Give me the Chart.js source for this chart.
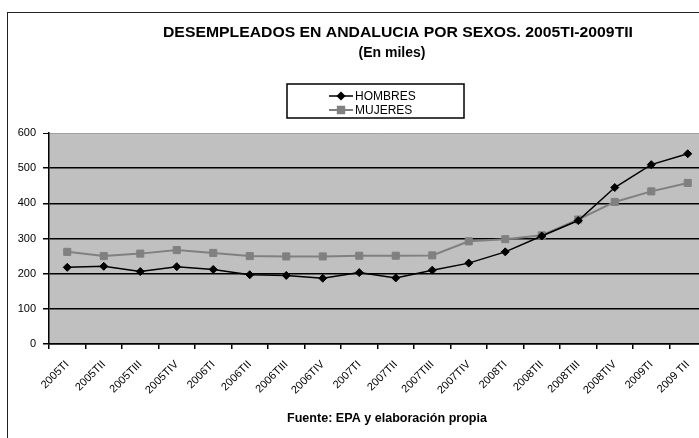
<!DOCTYPE html>
<html>
<head>
<meta charset="utf-8">
<script src="https://cdn.jsdelivr.net/npm/chart.js@4/dist/chart.umd.min.js"></script>
<style>
  html, body { margin: 0; padding: 0; background: #fff; overflow: hidden; }
  #wrap { position: relative; width: 715px; height: 438px; }
</style>
</head>
<body>
<div id="wrap"><canvas id="c" width="715" height="438"></canvas></div>
<script>
const categories = ['2005TI','2005TII','2005TIII','2005TIV','2006TI','2006TII','2006TIII','2006TIV','2007TI','2007TII','2007TIII','2007TIV','2008TI','2008TII','2008TIII','2008TIV','2009TI','2009 TII'];
const hombres = [218, 221, 206, 220, 212, 197, 195, 187, 203, 188, 210, 230, 262, 307, 351, 445, 510, 541];
const mujeres = [262, 250, 257, 267, 259, 250, 249, 249, 251, 251, 252, 292, 298, 309, 354, 404, 434, 458];
const seriesNames = ['HOMBRES', 'MUJERES'];
const titleLines = ['DESEMPLEADOS EN ANDALUCIA POR SEXOS. 2005TI-2009TII', '(En miles)'];
const footerText = 'Fuente: EPA y elaboración propia';
const yTicks = [0, 100, 200, 300, 400, 500, 600];

const FONT = '"Liberation Sans", Arial, sans-serif';

function fitText(ctx, text, x, y, targetW) {
  const w = ctx.measureText(text).width;
  ctx.save();
  ctx.translate(x, y);
  ctx.scale(targetW / w, 1);
  ctx.fillText(text, 0, 0);
  ctx.restore();
}

const decor = {
  id: 'decor',
  beforeDraw(chart) {
    const ctx = chart.ctx, a = chart.chartArea;
    ctx.save();
    ctx.fillStyle = '#fff';
    ctx.fillRect(0, 0, chart.width, chart.height);
    ctx.fillStyle = '#c0c0c0';
    ctx.fillRect(a.left, a.top, a.right - a.left, a.bottom - a.top);
    ctx.strokeStyle = '#222';
    ctx.lineWidth = 1;
    ctx.strokeRect(7.5, 12.5, chart.width + 20, chart.height + 20);
    ctx.restore();
  },
  afterDraw(chart) {
    const ctx = chart.ctx;
    ctx.save();
    ctx.fillStyle = '#000';
    ctx.textBaseline = 'middle';
    ctx.textAlign = 'left';
    ctx.font = 'bold 15px ' + FONT;
    fitText(ctx, titleLines[0], 163, 33, 470);
    ctx.font = 'bold 14px ' + FONT;
    ctx.textAlign = 'center';
    ctx.fillText(titleLines[1], 392, 53);
    ctx.lineWidth = 1.5;
    ctx.strokeStyle = '#000';
    ctx.strokeRect(287, 84, 177, 34);
    ctx.font = '12px ' + FONT;
    ctx.textAlign = 'left';
    const ys = [96, 110];
    chart.data.datasets.forEach((ds, i) => {
      const y = ys[i];
      ctx.strokeStyle = ds.borderColor;
      ctx.lineWidth = ds.borderWidth;
      ctx.beginPath();
      ctx.moveTo(329, y); ctx.lineTo(353, y);
      ctx.stroke();
      Chart.helpers.drawPoint(ctx, {pointStyle: ds.pointStyle, radius: ds.pointRadius - 0.5, borderWidth: 1}, 341, y);
      ctx.fillStyle = ds.pointBackgroundColor;
      ctx.fill();
      ctx.fillStyle = '#000';
      ctx.fillText(ds.label, 355, y + 0.5);
    });
    ctx.font = 'bold 12px ' + FONT;
    ctx.textAlign = 'left';
    fitText(ctx, footerText, 287, 419, 200);
    ctx.restore();
  }
};

new Chart(document.getElementById('c'), {
  type: 'line',
  data: {
    labels: categories,
    datasets: [
      {
        label: seriesNames[0], data: hombres,
        borderColor: '#000', borderWidth: 1.5,
        pointStyle: 'rectRot', pointRadius: 4, pointBackgroundColor: '#000', pointBorderColor: '#000', pointBorderWidth: 1,
        tension: 0
      },
      {
        label: seriesNames[1], data: mujeres,
        borderColor: '#808080', borderWidth: 2,
        pointStyle: 'rect', pointRadius: 5, pointBackgroundColor: '#808080', pointBorderColor: '#808080', pointBorderWidth: 1,
        tension: 0
      }
    ]
  },
  options: {
    responsive: false,
    animation: false,
    devicePixelRatio: 1,
    layout: { padding: { left: 0, right: 9, top: 133, bottom: 0 } },
    plugins: { legend: { display: false }, title: { display: false }, tooltip: { enabled: false } },
    scales: {
      x: {
        type: 'category',
        offset: true,
        grid: { display: true, offset: true, drawOnChartArea: false, drawTicks: true, tickLength: 5, color: '#000', lineWidth: 1.5 },
        border: { display: true, color: '#000', width: 1.5 },
        ticks: { autoSkip: false, minRotation: 45, maxRotation: 45, padding: 9, color: '#000', font: { family: FONT, size: 11 } },
        afterFit(scale) { scale.height = 94; }
      },
      y: {
        min: 0, max: 600,
        afterBuildTicks(scale) { scale.ticks = yTicks.map(v => ({ value: v })); },
        grid: {
          color: ctx => (ctx.tick && ctx.tick.value === 600) ? '#a0a0a0' : '#000',
          tickColor: '#000',
          lineWidth: ctx => (ctx.tick && ctx.tick.value === 600) ? 1 : 1.5,
          tickLength: 6, drawTicks: true
        },
        border: { display: true, color: '#000', width: 1.5 },
        ticks: { padding: 7, color: '#000', font: { family: FONT, size: 11 } },
        afterFit(scale) { scale.width = 49; }
      }
    }
  },
  plugins: [decor]
});
</script>
</body>
</html>
